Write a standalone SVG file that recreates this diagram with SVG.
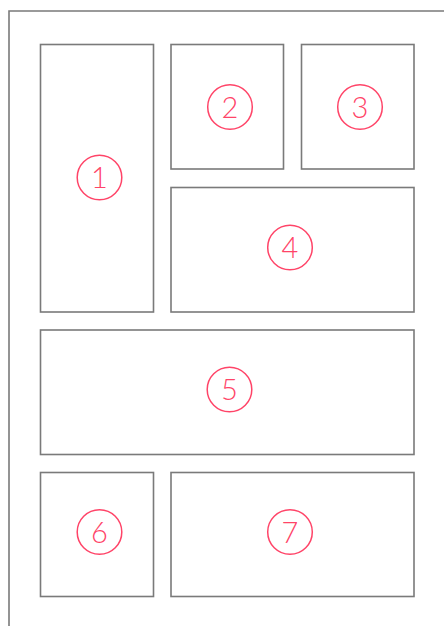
<svg xmlns="http://www.w3.org/2000/svg" width="444" height="626" viewBox="0 0 444 626">
<style>
.frame{fill:none;stroke:#7a7a7a;stroke-width:1.6}
.box{fill:#fff;stroke:#7a7a7a;stroke-width:1.6}
.badge{fill:none;stroke:#ff4468;stroke-width:1.5}
.num{font-family:Lato,"Noto Sans","Liberation Sans",sans-serif;font-weight:300;font-size:29px;fill:#ff4468;text-anchor:middle}
</style>
<rect width="444" height="626" fill="#fff"/>
<path class="frame" d="M9,626 V11 H444"/>
<g id="panel1"><rect class="box" x="40.5" y="44.5" width="113" height="267.5"/><circle class="badge" cx="99.5" cy="177.5" r="22.3"/><text class="num" x="99.5" y="188">1</text></g>
<g id="panel2"><rect class="box" x="171" y="44.5" width="112.5" height="124.5"/><circle class="badge" cx="230" cy="107" r="22.3"/><text class="num" x="230" y="117.5">2</text></g>
<g id="panel3"><rect class="box" x="301.5" y="44.5" width="112.5" height="124.5"/><circle class="badge" cx="360" cy="107" r="22.3"/><text class="num" x="360" y="117.5">3</text></g>
<g id="panel4"><rect class="box" x="171" y="187.5" width="243" height="124.5"/><circle class="badge" cx="290" cy="247.5" r="22.3"/><text class="num" x="290" y="258">4</text></g>
<g id="panel5"><rect class="box" x="40.5" y="330" width="373.5" height="124.5"/><circle class="badge" cx="229.5" cy="389.5" r="22.3"/><text class="num" x="229.5" y="400">5</text></g>
<g id="panel6"><rect class="box" x="40.5" y="472.5" width="113" height="124"/><circle class="badge" cx="99.5" cy="532" r="22.3"/><text class="num" x="99.5" y="542.5">6</text></g>
<g id="panel7"><rect class="box" x="171" y="472.5" width="243" height="124"/><circle class="badge" cx="290" cy="532" r="22.3"/><text class="num" x="290" y="542.5">7</text></g>
<g id="connectors"></g>
</svg>
